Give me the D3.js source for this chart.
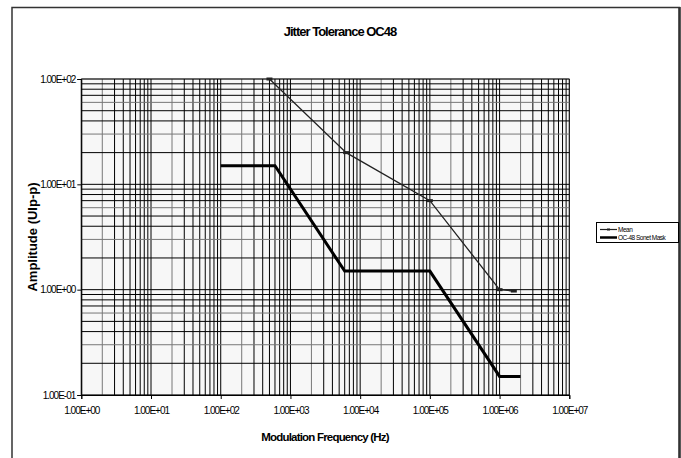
<!DOCTYPE html>
<html><head><meta charset="utf-8">
<script src="https://cdn.jsdelivr.net/npm/d3@7"></script>
<style>body{margin:0;background:#fff}svg{display:block}text{font-family:"Liberation Sans",Arial,sans-serif}</style>
</head><body><svg id="c" width="681" height="458"></svg>
<script>
const title = "Jitter Tolerance OC48";
const xTitle = "Modulation Frequency (Hz)";
const yTitle = "Amplitude (UIp-p)";
const xTickValues = [1e0,1e1,1e2,1e3,1e4,1e5,1e6,1e7];
const xTickLabels = ["1.00E+00","1.00E+01","1.00E+02","1.00E+03","1.00E+04","1.00E+05","1.00E+06","1.00E+07"];
const yTickValues = [1e-1,1e0,1e1,1e2];
const yTickLabels = ["1.00E-01","1.00E+00","1.00E+01","1.00E+02"];
const meanFreq = [500, 6300, 100000, 1000000, 1600000];
const meanAmp  = [100, 20, 7, 1.0, 0.97];
const maskFreq = [100, 600, 6000, 100000, 1000000, 2000000];
const maskAmp  = [15, 15, 1.5, 1.5, 0.15, 0.15];
const seriesNames = ["Mean", "OC-48 Sonet Mask"];

const svg = d3.select("#c");
const L=81.3, R=569.3, T=79, B=395;
const x = d3.scaleLog().domain([1e0,1e7]).range([L,R]);
const y = d3.scaleLog().domain([1e-1,1e2]).range([B,T]);

// chart border
svg.append("path").attr("d","M12,470 L12,7.5 L679.5,7.5 L679.5,470").attr("fill","none").attr("stroke","#333").attr("stroke-width",1.5);
svg.append("line").attr("x1",679.5).attr("x2",679.5).attr("y1",7).attr("y2",458).attr("stroke","#333").attr("stroke-width",2.5);

// plot bg
svg.append("rect").attr("x",L).attr("y",T).attr("width",R-L).attr("height",B-T).attr("fill","#f7f7f7").attr("stroke","#999").attr("stroke-width",1);

// grid
const minorX=[], minorY=[];
for(let e=0;e<7;e++) for(let k=1;k<=9;k++) minorX.push(k*Math.pow(10,e));
minorX.push(1e7);
for(let e=-1;e<2;e++) for(let k=1;k<=9;k++) minorY.push(k*Math.pow(10,e));
minorY.push(1e2);
const mant = d=>Math.round(d/Math.pow(10,Math.floor(Math.log10(d)+1e-9)));
const g = svg.append("g");
g.selectAll(".vx").data(minorX).join("line")
  .attr("x1",d=>x(d)).attr("x2",d=>x(d)).attr("y1",T).attr("y2",B)
  .attr("stroke",d=>mant(d)===2?"#777":"#000").attr("stroke-width",1);
g.selectAll(".hy").data(minorY).join("line")
  .attr("x1",L).attr("x2",R).attr("y1",d=>y(d)).attr("y2",d=>y(d))
  .attr("stroke",d=>(mant(d)===3||mant(d)===6)?"#777":"#000").attr("stroke-width",1);

// axes
const xa = svg.append("g").attr("transform",`translate(0,${B})`)
  .call(d3.axisBottom(x).tickValues(xTickValues).tickFormat((d,i)=>xTickLabels[i]).tickSizeOuter(0).tickSize(4));
xa.select(".domain").attr("stroke","#000");
xa.selectAll("text").attr("font-size",10).attr("letter-spacing",-1).attr("dy","1.2em").attr("fill","#000").attr("font-family","'Liberation Sans',Arial");
const ya = svg.append("g").attr("transform",`translate(${L},0)`)
  .call(d3.axisLeft(y).tickValues(yTickValues).tickFormat((d,i)=>yTickLabels[i]).tickSizeOuter(0).tickSize(4));
ya.select(".domain").attr("stroke","#000");
ya.selectAll("text").attr("font-size",10).attr("letter-spacing",-1).attr("dx","0.1em").attr("fill","#000").attr("font-family","'Liberation Sans',Arial");

// series
const line = d3.line().x(d=>x(d[0])).y(d=>y(d[1]));
const meanData = meanFreq.map((f,i)=>[f,meanAmp[i]]);
const maskData = maskFreq.map((f,i)=>[f,maskAmp[i]]);
svg.append("path").datum(maskData).attr("d",line).attr("fill","none").attr("stroke","#000").attr("stroke-width",3);
svg.append("path").datum(meanData).attr("d",line).attr("fill","none").attr("stroke","#222").attr("stroke-width",1.3);
svg.selectAll(".mk").data(meanData).join("rect")
  .attr("x",d=>x(d[0])-3).attr("y",d=>y(d[1])-1.5).attr("width",6).attr("height",3).attr("fill","#222");

// titles
svg.append("text").attr("x",340).attr("y",36).attr("text-anchor","middle").attr("font-size",13).attr("font-weight","bold").attr("letter-spacing",-1).text(title);
svg.append("text").attr("x",325).attr("y",441).attr("text-anchor","middle").attr("font-size",11.5).attr("font-weight","bold").attr("letter-spacing",-0.8).text(xTitle);
svg.append("text").attr("transform","translate(37,237) rotate(-90)").attr("text-anchor","middle").attr("font-size",13).attr("font-weight","bold").text(yTitle);

// legend
const lg = svg.append("g");
lg.append("rect").attr("x",596.5).attr("y",222.5).attr("width",82).attr("height",20).attr("fill","#fff").attr("stroke","#000").attr("stroke-width",1);
lg.append("line").attr("x1",600).attr("x2",617).attr("y1",229.5).attr("y2",229.5).attr("stroke","#222").attr("stroke-width",1.2);
lg.append("rect").attr("x",607).attr("y",228.5).attr("width",3).attr("height",2).attr("fill","#222");
lg.append("line").attr("x1",600).attr("x2",617).attr("y1",237.5).attr("y2",237.5).attr("stroke","#000").attr("stroke-width",2.5);
lg.selectAll(".lt").data(seriesNames).join("text")
  .attr("x",618).attr("y",(d,i)=>232+i*8).attr("font-size",6.5).attr("letter-spacing",-0.5).text(d=>d);
</script></body></html>
